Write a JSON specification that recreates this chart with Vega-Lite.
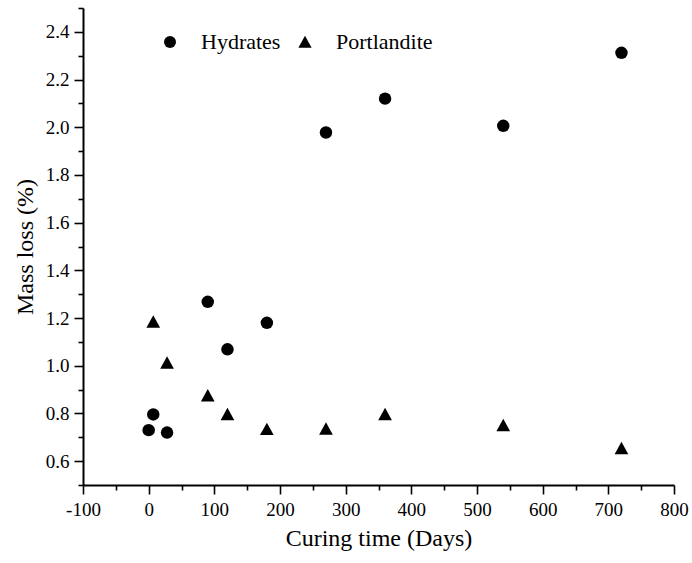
{
  "$schema": "https://vega.github.io/schema/vega-lite/v6.json",
  "width": 591,
  "height": 477,
  "autosize": {"type": "none"},
  "padding": {"left": 83, "top": 8, "right": 18, "bottom": 78},
  "background": "white",
  "config": {
    "view": {"stroke": null},
    "font": "Liberation Serif",
    "axis": {"labelFont": "Liberation Serif", "titleFont": "Liberation Serif"},
    "legend": {"labelFont": "Liberation Serif", "titleFont": "Liberation Serif"}
  },
  "data": {
    "values": [
      {"series": "Hydrates", "day": 0, "loss": 0.73},
      {"series": "Hydrates", "day": 7, "loss": 0.796},
      {"series": "Hydrates", "day": 28, "loss": 0.72},
      {"series": "Hydrates", "day": 90, "loss": 1.268},
      {"series": "Hydrates", "day": 120, "loss": 1.069},
      {"series": "Hydrates", "day": 180, "loss": 1.18},
      {"series": "Hydrates", "day": 270, "loss": 1.978},
      {"series": "Hydrates", "day": 360, "loss": 2.12},
      {"series": "Hydrates", "day": 540, "loss": 2.006},
      {"series": "Hydrates", "day": 720, "loss": 2.312},
      {"series": "Portlandite", "day": 7, "loss": 1.184},
      {"series": "Portlandite", "day": 28, "loss": 1.012},
      {"series": "Portlandite", "day": 90, "loss": 0.875},
      {"series": "Portlandite", "day": 120, "loss": 0.796},
      {"series": "Portlandite", "day": 180, "loss": 0.734},
      {"series": "Portlandite", "day": 270, "loss": 0.736},
      {"series": "Portlandite", "day": 360, "loss": 0.796},
      {"series": "Portlandite", "day": 540, "loss": 0.75},
      {"series": "Portlandite", "day": 720, "loss": 0.654}
    ]
  },
  "mark": {"type": "point", "filled": true, "opacity": 1, "color": "black", "size": 155},
  "encoding": {
    "x": {
      "field": "day",
      "type": "quantitative",
      "scale": {"domain": [-100, 800], "nice": false, "zero": false},
      "axis": {
        "title": "Curing time (Days)",
        "titleFont": "Liberation Serif",
        "titleFontSize": 24,
        "titleFontWeight": "normal",
        "titleColor": "black",
        "titlePadding": 7,
        "values": [-100, -50, 0, 50, 100, 150, 200, 250, 300, 350, 400, 450, 500, 550, 600, 650, 700, 750, 800],
        "labelExpr": "datum.value % 100 === 0 ? '' + datum.value : ''",
        "labelFont": "Liberation Serif",
        "labelFontSize": 19,
        "labelColor": "black",
        "labelPadding": 6,
        "labelOverlap": false,
        "labelFlush": false,
        "labelBound": false,
        "tickSize": {"condition": {"test": "datum.value % 100 === 0", "value": 9}, "value": 5},
        "tickColor": "black",
        "tickWidth": 1.6,
        "domainColor": "black",
        "domainWidth": 2,
        "grid": false
      }
    },
    "y": {
      "field": "loss",
      "type": "quantitative",
      "scale": {"domain": [0.5, 2.5], "nice": false, "zero": false},
      "axis": {
        "title": "Mass loss (%)",
        "titleFont": "Liberation Serif",
        "titleFontSize": 24,
        "titleFontWeight": "normal",
        "titleColor": "black",
        "titlePadding": 8,
        "values": [0.5, 0.6, 0.7, 0.8, 0.9, 1.0, 1.1, 1.2, 1.3, 1.4, 1.5, 1.6, 1.7, 1.8, 1.9, 2.0, 2.1, 2.2, 2.3, 2.4, 2.5],
        "labelExpr": "round(datum.value * 10) % 2 === 0 ? format(datum.value, '.1f') : ''",
        "labelFont": "Liberation Serif",
        "labelFontSize": 19,
        "labelColor": "black",
        "labelPadding": 5,
        "labelOverlap": false,
        "labelFlush": false,
        "labelBound": false,
        "tickSize": {"condition": {"test": "round(datum.value * 10) % 2 === 0", "value": 9}, "value": 5},
        "tickColor": "black",
        "tickWidth": 1.6,
        "domainColor": "black",
        "domainWidth": 2,
        "grid": false
      }
    },
    "shape": {
      "field": "series",
      "type": "nominal",
      "scale": {"domain": ["Hydrates", "Portlandite"], "range": ["circle", "M-1.1,0.95L1.1,0.95L0,-1.05Z"]},
      "legend": {
        "orient": "none",
        "legendX": 76,
        "legendY": 23,
        "direction": "horizontal",
        "title": null,
        "padding": 0,
        "labelFont": "Liberation Serif",
        "labelFontSize": 22,
        "labelColor": "black",
        "labelOffset": 20,
        "columnPadding": 13,
        "symbolSize": 145,
        "symbolFillColor": "black",
        "symbolStrokeColor": "black",
        "symbolOpacity": 1
      }
    }
  }
}
